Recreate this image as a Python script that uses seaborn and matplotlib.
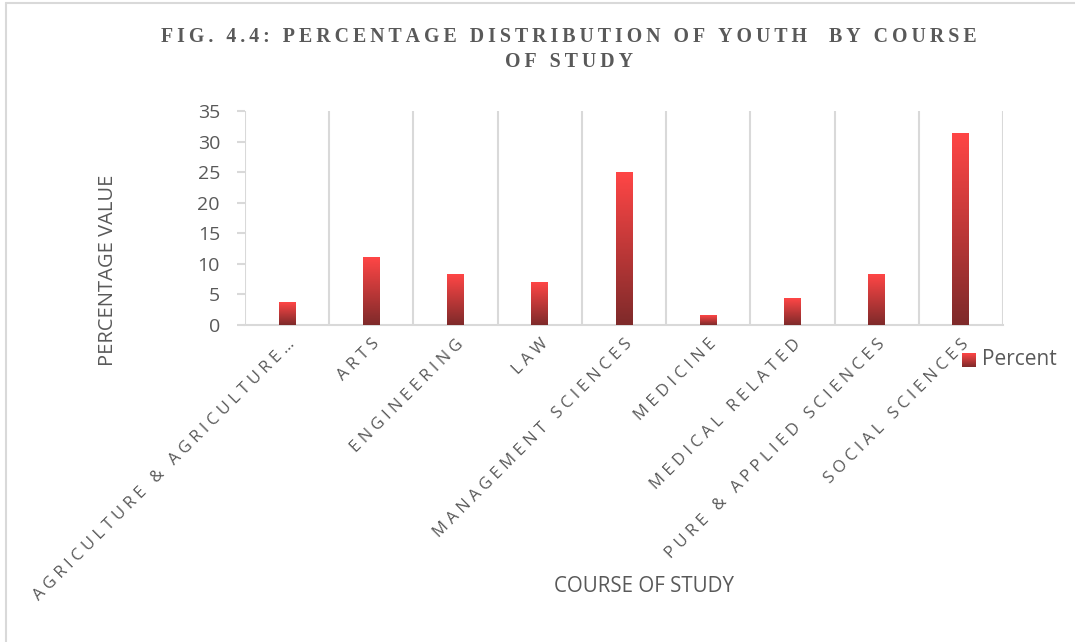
import numpy as np
import pandas as pd
import matplotlib
matplotlib.use("Agg")
import matplotlib.pyplot as plt
from matplotlib.lines import Line2D
from matplotlib.colors import LinearSegmentedColormap
import seaborn as sns

courses = [
    "AGRICULTURE & AGRICULTURE…",
    "ARTS",
    "ENGINEERING",
    "LAW",
    "MANAGEMENT SCIENCES",
    "MEDICINE",
    "MEDICAL RELATED",
    "PURE & APPLIED SCIENCES",
    "SOCIAL SCIENCES",
]
percent = [3.6, 11.0, 8.2, 6.9, 25.0, 1.5, 4.4, 8.2, 31.3]
y_ticks = [0, 5, 10, 15, 20, 25, 30, 35]

TEXT = "#595959"
GRID = "#d9d9d9"
TOP_RED = "#ff4646"
BOTTOM_RED = "#7e2a2a"


def spaced(s, gap="\u2009"):
    return gap.join(list(s))


sns.set_theme(style="white")
plt.rcParams["font.family"] = ["Open Sans", "DejaVu Sans"]

df = pd.DataFrame({"course": courses, "percent": percent})

fig = plt.figure(figsize=(10.75, 6.42), dpi=100)
ax = fig.add_axes([245 / 1075, 1 - 325 / 642, (1003 - 245) / 1075, (325 - 111) / 642])

sns.barplot(data=df, x="course", y="percent", color=TOP_RED, width=0.2, ax=ax,
            saturation=1, zorder=3)

# vertical gradient inside each bar: bright red on top, dark red at the base
grad_cmap = LinearSegmentedColormap.from_list("bar_grad", [BOTTOM_RED, TOP_RED])
grad = np.linspace(0, 1, 256).reshape(-1, 1)
for patch in ax.patches:
    x0 = patch.get_x()
    w = patch.get_width()
    h = patch.get_height()
    ax.imshow(grad, cmap=grad_cmap, origin="lower", aspect="auto",
              extent=(x0, x0 + w, 0, h), zorder=3, interpolation="bilinear")
    patch.set_alpha(0)

n = len(courses)
ax.set_xlim(-0.5, n - 0.5)
ax.set_ylim(0, 35)
ax.set_yticks(y_ticks)
ax.set_yticklabels([str(v) for v in y_ticks], color=TEXT, fontsize=14)

# category separators as vertical gridlines
ax.set_xticks(np.arange(-0.5, n, 1.0), minor=True)
ax.set_xticks(np.arange(n))
ax.set_xticklabels([spaced(c, "\u2009\u200a") for c in courses], rotation=45, ha="right",
                   va="top", rotation_mode="anchor", color=TEXT, fontsize=12)
ax.grid(False)
ax.grid(True, which="minor", axis="x", color=GRID, linewidth=1.5, zorder=0)
ax.tick_params(axis="x", which="major", length=0, pad=8)
ax.tick_params(axis="x", which="minor", length=6, width=1.5, color=GRID, direction="out")
ax.tick_params(axis="y", which="major", length=6, width=1.5, color=GRID, direction="out",
               left=True, pad=12)

for side in ["top", "right", "left"]:
    ax.spines[side].set_visible(False)
ax.spines["bottom"].set_color(GRID)
ax.spines["bottom"].set_linewidth(1.5)
ax.set_xlabel("")
ax.set_ylabel("")

# titles and axis labels
title_font = dict(ha="center", va="center", color=TEXT, fontsize=14.3,
                  family=["Liberation Serif", "DejaVu Serif"], fontweight="bold")
fig.text(569 / 1075, 1 - 37 / 642,
         spaced("FIG. 4.4: PERCENTAGE DISTRIBUTION OF YOUTH  BY COURSE"), **title_font)
fig.text(569 / 1075, 1 - 62 / 642, spaced("OF STUDY"), **title_font)
fig.text(108 / 1075, 1 - 270 / 642, "PERCENTAGE VALUE", rotation=90,
         ha="center", va="center", color=TEXT, fontsize=14.5)
fig.text(644 / 1075, 1 - 586 / 642, "COURSE OF STUDY",
         ha="center", va="center", color=TEXT, fontsize=14.8)

# legend: gradient swatch and series name
lax = fig.add_axes([962 / 1075, 1 - 367 / 642, 14 / 1075, 14 / 642])
lax.imshow(grad, cmap=grad_cmap, origin="lower", aspect="auto", interpolation="bilinear")
lax.axis("off")
fig.text(982 / 1075, 1 - 360 / 642, "Percent", ha="left", va="center",
         color=TEXT, fontsize=15)

# chart frame
fig.add_artist(Line2D([6 / 1075, 1], [1 - 3 / 642, 1 - 3 / 642], color=GRID, linewidth=1.5,
                      transform=fig.transFigure))
fig.add_artist(Line2D([6 / 1075, 6 / 1075], [0, 1 - 3 / 642], color=GRID, linewidth=1.5,
                      transform=fig.transFigure))

fig.savefig("out.png", dpi=100, facecolor="white")
